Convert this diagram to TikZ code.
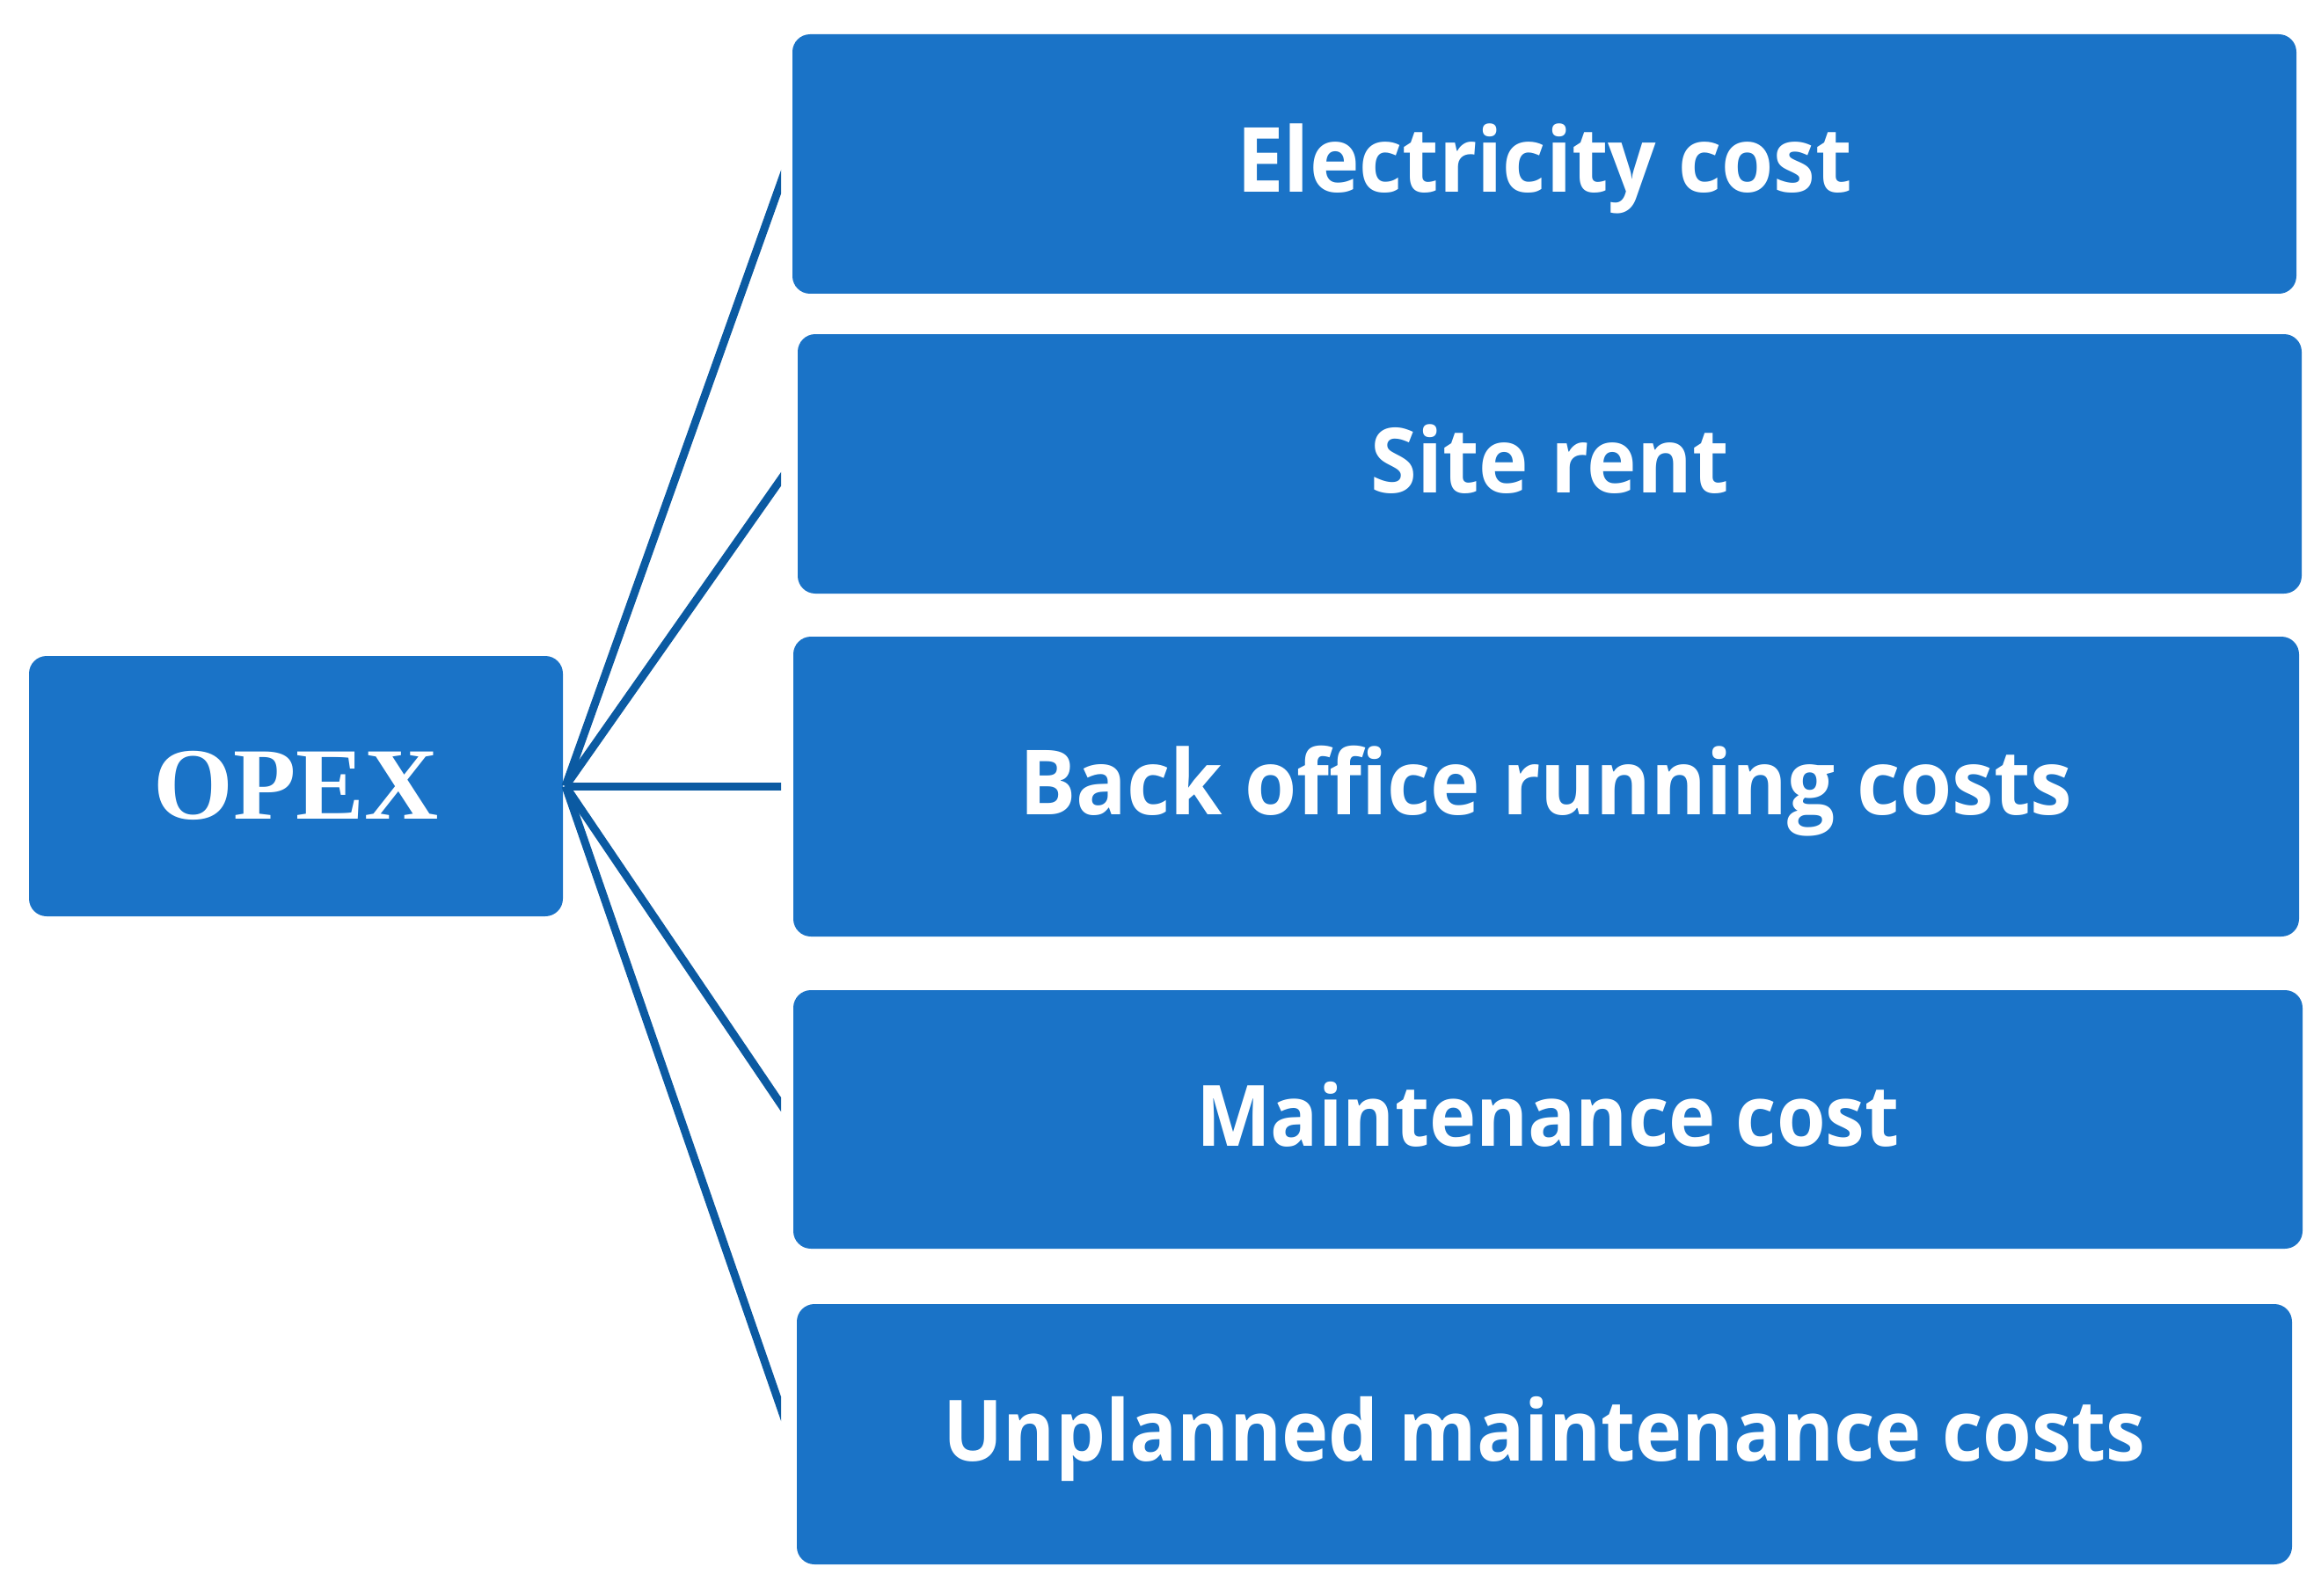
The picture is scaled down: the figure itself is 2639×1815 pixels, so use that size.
\documentclass[tikz,border=0pt]{standalone}
\usepackage{fontspec}
\newfontfamily\opensans[Ligatures={NoCommon},FakeStretch=0.935]{Open Sans}
\newfontfamily\libserif{Liberation Serif}
\usetikzlibrary{calc}
\definecolor{boxblue}{RGB}{26,115,199}
\definecolor{lineblue}{RGB}{11,90,162}
\tikzset{
  costbox/.style={fill=boxblue, draw=none, rounded corners=6pt, inner sep=0pt,
    text=white, text height=19.5pt, text depth=0pt,
    font=\opensans\bfseries\fontsize{30.7}{36}\selectfont},
  smallcost/.style={costbox, text height=18.2pt,
    font=\opensans\bfseries\fontsize{28.9}{34}\selectfont},
  rootbox/.style={fill=boxblue, draw=none, rounded corners=6pt, inner sep=0pt,
    text=white, text height=22.5pt, text depth=0pt,
    font=\libserif\bfseries\fontsize{35}{40}\selectfont},
  link/.style={draw=lineblue, line width=2.7pt}
}
\begin{document}
\begin{tikzpicture}[x=0.3pt,y=-0.3pt]
\useasboundingbox (0,0) rectangle (2639,1815);
\node[rootbox, minimum width=182.1pt, minimum height=88.8pt] (opex) at (336.5,894) {OPEX};
\node[costbox, minimum width=513pt, minimum height=88.5pt] (b1) at (1756,186.5) {Electricity cost};
\node[costbox, minimum width=513pt, minimum height=88.5pt] (b2) at (1762,527.5) {Site rent};
\node[costbox, text height=19.2pt, minimum width=513.6pt, minimum height=102.3pt] (b3) at (1758,894.5) {Back office running costs};
\node[smallcost, minimum width=514.8pt, minimum height=88.2pt] (b4) at (1760,1273) {Maintenance cost};
\node[smallcost, minimum width=510pt, minimum height=88.8pt] (b5) at (1756,1631) {Unplanned maintenance costs};
\coordinate (hub) at (643,894);
\coordinate (e1) at (888,207);
\coordinate (e2) at (890,542);
\coordinate (e3) at (888,894);
\coordinate (e4) at (888,1256);
\coordinate (e5) at (888,1602);
\begin{scope}
\clip (0,0) rectangle (888,1815);
\foreach \e in {e1,e2,e3,e4,e5}{
  \draw[link] (hub) -- ($(hub)!1.06!(\e)$);
}
\end{scope}
\end{tikzpicture}
\end{document}
